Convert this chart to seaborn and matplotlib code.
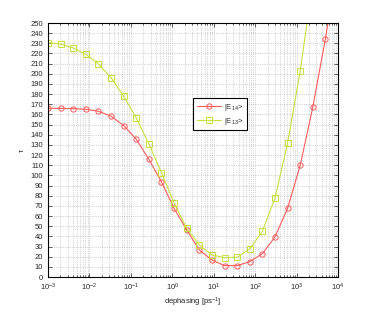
import numpy as np
import pandas as pd
import matplotlib
matplotlib.use("Agg")
import matplotlib.pyplot as plt
import seaborn as sns

# dephasing rates (log-spaced sample points) and tau for both states
dephasing = np.logspace(-3, 4, 24)
tau_e14 = [166.0, 166.0, 165.7, 165.1, 163.1, 158.3, 149.1, 135.6, 115.8, 93.5, 67.5, 46.3,
           26.6, 16.7, 11.2, 11.2, 15.1, 22.9, 39.4, 67.6, 109.9, 167.0, 234.5, 310.0]
tau_e13 = [230.6, 229.3, 225.4, 219.2, 209.6, 196.2, 178.1, 156.5, 130.9, 102.7, 72.8, 47.9,
           31.5, 21.7, 19.0, 19.4, 27.7, 45.0, 77.5, 131.6, 202.5, 290.0, 400.0, 540.0]
labels = ["|E$_{14}$>", "|E$_{13}$>"]

sns.set_theme(style="ticks")
plt.rcParams['font.family'] = ['Liberation Sans', 'DejaVu Sans']
plt.rcParams['mathtext.fontset'] = 'custom'
plt.rcParams['mathtext.rm'] = 'Liberation Sans'
plt.rcParams['mathtext.it'] = 'Liberation Sans'

df = pd.DataFrame({
    "dephasing": np.concatenate([dephasing, dephasing]),
    "tau": tau_e14 + tau_e13,
    "state": [labels[0]] * len(dephasing) + [labels[1]] * len(dephasing),
})

fig = plt.figure(figsize=(3.74, 3.12), dpi=100)
ax = fig.add_axes([48 / 374, 1 - 277 / 312, 290 / 374, 254 / 312])

colors = {labels[0]: "#ff5a5a", labels[1]: "#c8e03c"}
markers = {labels[0]: "o", labels[1]: "s"}
for lab in labels:
    sub = df[df["state"] == lab]
    sns.lineplot(data=sub, x="dephasing", y="tau", ax=ax, color=colors[lab],
                 marker=markers[lab], markersize=3.8, markerfacecolor="none",
                 markeredgecolor=colors[lab], markeredgewidth=0.7, linewidth=0.8,
                 label=lab)

ax.set_xscale("log")
ax.set_xlim(1e-3, 1e4)
ax.set_ylim(0, 250)
ax.set_yticks(np.arange(0, 251, 10))
ax.set_xticks([10.0 ** k for k in range(-3, 5)])

ax.grid(True, which="major", linestyle=":", color="#b0b0b0", linewidth=0.5)
ax.grid(True, which="minor", axis="x", linestyle=":", color="#b0b0b0", linewidth=0.5)
ax.tick_params(which="both", direction="in", labelsize=5.5, width=0.5, top=True, right=True)
ax.tick_params(which="major", length=3)
ax.tick_params(which="minor", length=1.5)
for sp in ax.spines.values():
    sp.set_linewidth(0.8)
    sp.set_color("black")

ax.set_xlabel("dephasing [ps$^{-1}$]", fontsize=5.5, labelpad=2)
ax.set_ylabel("τ", fontsize=5.5, labelpad=3)

leg = ax.legend(loc="upper left", bbox_to_anchor=(0.488, 0.718), fontsize=5.5,
                frameon=True, fancybox=False, edgecolor="black", framealpha=1,
                handlelength=3.2, borderpad=0.45, labelspacing=0.35, handletextpad=0.4)
leg.get_frame().set_linewidth(0.8)

fig.savefig("out.png", dpi=100)
